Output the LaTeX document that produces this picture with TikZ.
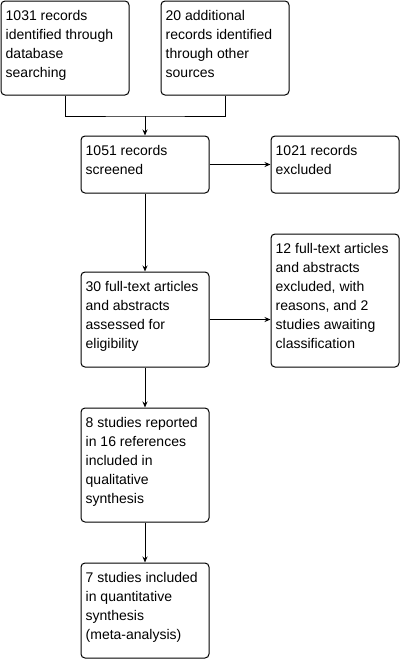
\documentclass[tikz,border=0pt]{standalone}
\usepackage{fontspec}
\setmainfont{Liberation Sans}
\usetikzlibrary{arrows.meta,calc}
\begin{document}
\begin{tikzpicture}[x=1pt,y=-1pt,
  box/.style={draw=black, line width=1pt, rounded corners=4pt, inner sep=0pt, minimum width=128pt},
  txt/.style={anchor=north west, inner sep=0pt, align=left, font={\fontsize{14pt}{19pt}\selectfont}},
  conn/.style={draw=black, line width=1pt},
  arr/.style={conn, -{Stealth[length=6pt,width=5pt]}}]
\useasboundingbox (0,0) rectangle (402,659);
\node[box, minimum height=94pt] (b1) at (65,48) {};
\node[box, minimum height=94pt] (b2) at (225,48) {};
\node[box, minimum height=57pt] (b3) at (145,164.5) {};
\node[box, minimum height=57pt] (b4) at (335,164.5) {};
\node[box, minimum height=95pt] (b5) at (145,319.5) {};
\node[box, minimum height=133pt] (b6) at (335,300.5) {};
\node[box, minimum height=114pt] (b7) at (145,465) {};
\node[box, minimum height=95pt] (b8) at (145,610.5) {};
\node[txt] (t1) at ($(b1.north west)+(5,10)$) {1031 records\\identified through\\database\\searching};
\node[txt] (t2) at ($(b2.north west)+(5,10)$) {20 additional\\records identified\\through other\\sources};
\node[txt] (t3) at ($(b3.north west)+(5,10)$) {1051 records\\screened};
\node[txt] (t4) at ($(b4.north west)+(5,10)$) {1021 records\\excluded};
\node[txt] (t5) at ($(b5.north west)+(5,10)$) {30 full-text articles\\and abstracts\\assessed for\\eligibility};
\node[txt] (t6) at ($(b6.north west)+(5,10)$) {12 full-text articles\\and abstracts\\excluded, with\\reasons, and 2\\studies awaiting\\classification};
\node[txt] (t7) at ($(b7.north west)+(5,10)$) {8 studies reported\\in 16 references\\included in\\qualitative\\synthesis};
\node[txt] (t8) at ($(b8.north west)+(5,10)$) {7 studies included\\in quantitative\\synthesis\\(meta-analysis)};
\coordinate (j) at (145,116);
\draw[conn] (b1.south) |- (j) -| (b2.south);
\draw[arr] (j) -- (b3.north);
\draw[arr] (b3.east) -- (b4.west);
\draw[arr] (b3.south) -- (b5.north);
\draw[arr] (b5.east) -- (b5.east -| b6.west);
\draw[arr] (b5.south) -- (b7.north);
\draw[arr] (b7.south) -- (b8.north);
\end{tikzpicture}
\end{document}
